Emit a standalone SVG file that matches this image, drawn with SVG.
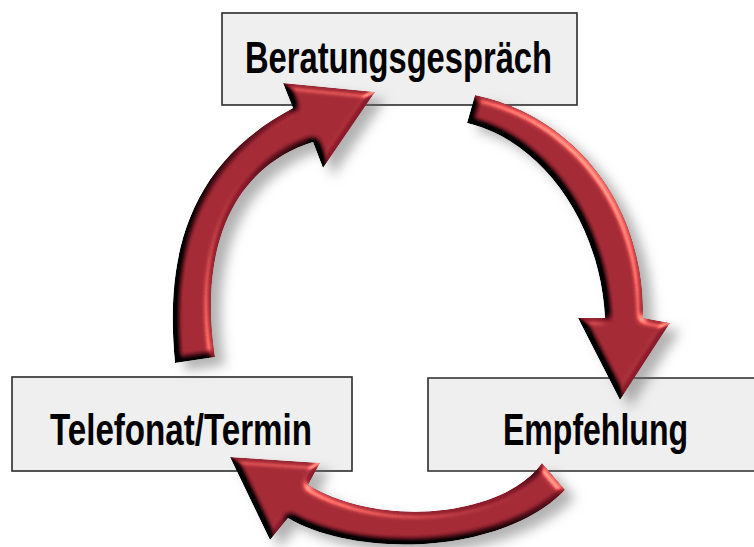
<svg xmlns="http://www.w3.org/2000/svg" width="754" height="547" viewBox="0 0 754 547">
  <defs>
    <style>
      .box { fill: #efefef; stroke: #2b2b2b; stroke-width: 1.6; }
      .label { font-family: "Liberation Sans Narrow", "Liberation Sans", Arial, sans-serif; font-weight: bold; font-size: 44px; fill: #000; }
      .arrow { fill: #8a1a2a; filter: url(#arrowFx); }
    </style>
    <filter id="arrowFx" x="-30%" y="-30%" width="170%" height="170%" color-interpolation-filters="sRGB">
      <feGaussianBlur in="SourceAlpha" stdDeviation="3.5" result="blur"/>
      <feDiffuseLighting in="blur" surfaceScale="5" diffuseConstant="1" lighting-color="#ffffff" result="diff">
        <feDistantLight azimuth="-40" elevation="30"/>
      </feDiffuseLighting>
      <feComponentTransfer in="diff" result="shade">
        <feFuncR type="linear" slope="2.1" intercept="-0.05"/>
        <feFuncG type="linear" slope="2.1" intercept="-0.05"/>
        <feFuncB type="linear" slope="2.1" intercept="-0.05"/>
      </feComponentTransfer>
      <feComposite in="SourceGraphic" in2="shade" operator="arithmetic" k1="1" k2="0" k3="0" k4="0" result="lit"/>
      <feSpecularLighting in="blur" surfaceScale="5" specularConstant="1" specularExponent="14" lighting-color="#c88462" result="spec">
        <feDistantLight azimuth="-40" elevation="30"/>
      </feSpecularLighting>
      <feComposite in="spec" in2="SourceAlpha" operator="in" result="specIn"/>
      <feComposite in="lit" in2="specIn" operator="arithmetic" k1="0" k2="1" k3="1" k4="0" result="bev"/>
      <feComposite in="bev" in2="SourceAlpha" operator="in" result="bevel"/>
      <feGaussianBlur in="SourceAlpha" stdDeviation="6" result="sb"/>
      <feOffset in="sb" dx="10" dy="8" result="so"/>
      <feFlood flood-color="#666666" flood-opacity="0.5" result="fl"/>
      <feComposite in="fl" in2="so" operator="in" result="shadow"/>
      <feMerge>
        <feMergeNode in="shadow"/>
        <feMergeNode in="bevel"/>
      </feMerge>
    </filter>
  </defs>

  <rect width="754" height="547" fill="#ffffff"/>

  <g id="node-beratungsgespraech">
    <rect class="box" x="222" y="13" width="355" height="92"/>
    <text class="label" x="245" y="73" textLength="307" lengthAdjust="spacingAndGlyphs">Beratungsgespräch</text>
  </g>

  <g id="node-telefonat-termin">
    <rect class="box" x="12" y="377" width="340" height="94"/>
    <text class="label" x="50" y="445" textLength="262" lengthAdjust="spacingAndGlyphs">Telefonat/Termin</text>
  </g>

  <g id="node-empfehlung">
    <path class="box" d="M754,378 H428 V471 H754"/>
    <text class="label" x="503" y="445" textLength="185" lengthAdjust="spacingAndGlyphs">Empfehlung</text>
  </g>

  <g id="connectors">
    <path id="arrow-telefonat-beratung" class="arrow" d="M175,363 C165,260 185,165 293,108 L283,83 L375,92 L323,168 L313,142 C225,170 200,260 215,357 Z"/>
    <path id="arrow-beratung-empfehlung" class="arrow" d="M475,95 C570,115 645,200 643,318 L670,323 L620,400 L578,318 L605,318 C600,220 540,140 467,123 Z"/>
    <path id="arrow-empfehlung-telefonat" class="arrow" d="M542,463 C505,515 385,530 308,485 L320,463 L230,457 L270,540 L288,518 C360,560 505,553 565,490 Z"/>
  </g>
</svg>
